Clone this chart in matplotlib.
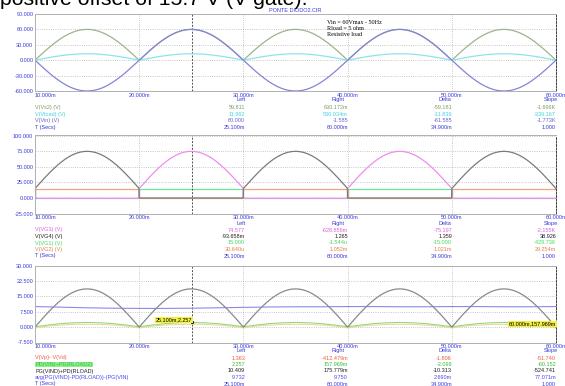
import numpy as np
import matplotlib.pyplot as plt

# ---- data ----
t_start, t_end = 10.0, 60.0          # ms
freq_hz = 50.0
vin_peak = 60.0
vload_peak = 12.5
gate_offset = 15.0
gate_peak = 59.6
power_peak = 18.6
cursor_t = 25.1

half_edges = [10, 20, 30, 40, 50, 60]
vg1_levels = [0.0, 15.0, 0.0, 15.0, 0.0]
vg2_levels = [15.0, 0.0, 15.0, 0.0, 15.0]

# panel 3 small curves, sampled every 1.25 ms from 10 to 60 ms
t_fine = [10 + 1.25 * i for i in range(41)]
pd_sum = [0.16, 1.0, 1.7, 2.1, 2.26, 2.1, 1.7, 1.0,
          0.16, 1.0, 1.7, 2.1, 2.26, 2.1, 1.7, 1.0,
          0.16, 1.0, 1.7, 2.1, 2.26, 2.1, 1.7, 1.0,
          0.16, 1.0, 1.7, 2.1, 2.26, 2.1, 1.7, 1.0,
          0.16, 1.0, 1.7, 2.1, 2.26, 2.1, 1.7, 1.0, 0.16]
vp_vd = [-0.41, 0.5, 1.0, 1.3, 1.36, 1.3, 1.0, 0.5,
         -0.41, 0.5, 1.0, 1.3, 1.36, 1.3, 1.0, 0.5,
         -0.41, 0.5, 1.0, 1.3, 1.36, 1.3, 1.0, 0.5,
         -0.41, 0.5, 1.0, 1.3, 1.36, 1.3, 1.0, 0.5,
         -0.41, 0.5, 1.0, 1.3, 1.36, 1.3, 1.0, 0.5, -0.41]
t_avg = [10 + 2.5 * i for i in range(21)]
avg_power = [10.0, 9.7, 9.4, 9.2, 9.1, 9.1, 9.2, 9.4, 9.6, 9.8, 9.9,
             9.9, 10.0, 10.0, 9.9, 9.9, 10.0, 10.0, 9.9, 9.9, 10.0]

# axis ticks
xticks = [10, 20, 30, 40, 50, 60]
xtick_labels = ['10.000m', '20.000m', '30.000m', '40.000m', '50.000m', '60.000m']
p1_yticks = [-60, -30, 0, 30, 60, 90]
p2_yticks = [-25, 0, 25, 50, 75, 100]
p3_yticks = [-7.5, 0, 7.5, 15, 22.5, 30]

# cursor readouts
col_heads = ['Left', 'Right', 'Delta', 'Slope']
p1_names = ['V(Vs2) (V)', 'V(Vload) (V)', 'V(Vin) (V)', 'T (Secs)']
p1_vals = [['59.811', '630.172m', '-59.181', '-1.696K'],
           ['11.962', '530.034m', '-11.839', '-339.167'],
           ['60.000', '-1.585', '-61.585', '-1.773K'],
           ['25.100m', '60.000m', '34.900m', '1.000']]
p2_names = ['V(VG3) (V)', 'V(VG4) (V)', 'V(VG1) (V)', 'V(VG2) (V)', 'T (Secs)']
p2_vals = [['74.577', '-628.859m', '-75.197', '-2.155K'],
           ['-93.658m', '1.265', '1.359', '38.926'],
           ['15.000', '-1.544u', '-15.000', '-429.736'],
           ['30.640u', '1.052m', '1.021m', '29.254m'],
           ['25.100m', '60.000m', '34.900m', '1.000']]
p3_names = ['V(Vp)- V(Vd)', 'PD(VIN)+PD(RLOAD2)', 'PG(VIND)+PD(RLOAD)',
            'avg(PG(VIND)-PD(RLOAD))-(PG(VIN)', 'T (Secs)']
p3_vals = [['1.363', '-412.479m', '-1.806', '-51.740'],
           ['2.257', '157.969m', '-2.099', '-60.152'],
           ['10.409', '175.779m', '-10.313', '-524.741'],
           ['9.732', '9.750', '2.690m', '77.071m'],
           ['25.100m', '60.000m', '34.900m', '1.000']]

# ---- figure ----
W, H = 565, 386
plt.rcParams['font.family'] = ['Liberation Sans', 'DejaVu Sans']
fig = plt.figure(figsize=(W / 100, H / 100), dpi=100)
fig.patch.set_facecolor('white')

def fx(x):
    return x / W

def fy(y):
    return 1 - y / H

tick_blue = '#3a3ad8'
fs = 4.0

def make_panel(top, bottom, ylim, yticks):
    ax = fig.add_axes([fx(35), fy(bottom), (556 - 35) / W, (bottom - top) / H])
    ax.set_xlim(t_start, t_end)
    ax.set_ylim(*ylim)
    ax.set_xticks(xticks)
    ax.set_xticklabels(xtick_labels)
    ax.set_yticks(yticks)
    ax.set_yticklabels(['%.3f' % v for v in yticks])
    ax.tick_params(length=0, labelsize=fs, labelcolor=tick_blue, pad=1.2)
    ax.get_xticklabels()[0].set_ha('left')
    ax.grid(True, color='#b4b4b4', ls=':', lw=0.6)
    for s in ['top', 'left', 'bottom']:
        ax.spines[s].set_color('#b0b0b0')
        ax.spines[s].set_linewidth(0.7)
    ax.spines['right'].set_color('#404040')
    ax.spines['right'].set_linestyle((0, (2, 1.5)))
    ax.spines['right'].set_linewidth(0.7)
    ax.axvline(cursor_t, color='#505050', ls=(0, (2, 1.5)), lw=0.7)
    return ax

def readout(y_head, y_rows, names, vals, colors, bg=None):
    heads_x = [241, 338, 445, 551]
    vals_x = [245, 348, 452, 556]
    for hx, h in zip(heads_x, col_heads):
        fig.text(fx(hx), fy(y_head), h, fontsize=fs, color=tick_blue,
                 ha='center', va='center')
    for i, (yy, n, row, c) in enumerate(zip(y_rows, names, vals, colors)):
        kw = {}
        if bg is not None and bg[0] == i:
            kw['bbox'] = dict(facecolor=bg[1], edgecolor='none', pad=0.3)
        fig.text(fx(35), fy(yy), n, fontsize=fs, color=c, ha='left', va='center', **kw)
        for vx, v in zip(vals_x, row):
            fig.text(fx(vx), fy(yy), v, fontsize=fs, color=c, ha='right', va='center')

t = np.linspace(t_start, t_end, 3001)
phase = 2 * np.pi * freq_hz / 1000.0 * (t - t_start)
half = np.clip(np.floor((t - t_start) / 10.0).astype(int), 0, 4)
rect = np.abs(np.sin(phase))

# panel 1
ax1 = make_panel(14, 91, (-60, 90), p1_yticks)
ax1.plot(t, vin_peak * rect, color='#9cb48c', lw=0.9)
ax1.plot(t, vload_peak * rect, color='#86e6ee', lw=0.9)
ax1.plot(t, -vin_peak * np.sin(phase), color='#8484d8', lw=0.9)
ax1.text(0.56, 0.92, 'Vin = 60Vmax - 50Hz\nRload = 5 ohm\nResistive load',
         transform=ax1.transAxes, family=['Liberation Serif'], fontsize=4.4,
         va='top', ha='left', linespacing=1.25)

fig.text(fx(295), fy(10.5), 'PONTE DIODO2.CIR', fontsize=4.0, color=tick_blue,
         ha='center', va='center')
fig.text(fx(0), fy(5), 'positive offset of 15.7 V (V gate).', fontsize=15.3,
         color='black', ha='left', va='baseline')

readout(99.5, [107.7, 114.2, 120.7, 127.2], p1_names, p1_vals,
        ['#7c9c64', '#40d4e4', '#6666cc', tick_blue])

# panel 2
odd = (half % 2 == 0)
vg4 = np.where(odd, gate_offset + gate_peak * rect, -0.09)
vg3 = np.where(~odd, gate_offset + gate_peak * rect, -0.6)
ax2 = make_panel(135.5, 213.5, (-25, 100), p2_yticks)
ax2.plot(t, vg3, color='#f08cf0', lw=0.9)
ax2.stairs(vg1_levels, half_edges, color='#6ee890', lw=0.9, baseline=None)
ax2.stairs(vg2_levels, half_edges, color='#f0a47c', lw=0.9, baseline=None)
ax2.plot(t, vg4, color='#7a7a7a', lw=0.9)
ax2.plot([t_start, t_start], [0, gate_offset], color='#303030', lw=0.9)

readout(223, [230, 236.5, 243, 249.5, 256], p2_names, p2_vals,
        ['#e060e0', '#202020', '#44d860', '#e88050', tick_blue])

# panel 3
ax3 = make_panel(265.5, 342.5, (-7.5, 30), p3_yticks)
ax3.plot(t_fine, vp_vd, color='#e8dc9c', lw=0.8)
ax3.plot(t_fine, pd_sum, color='#98d878', lw=0.8)
ax3.plot(t_avg, avg_power, color='#8a8ae8', lw=0.8)
ax3.plot(t, power_peak * rect, color='#8a8a8a', lw=0.9)
ax3.plot([cursor_t], [2.257], 's', color='#202020', ms=1.2)
ax3.text(cursor_t, 2.257, '25.100m,2.257', fontsize=fs, ha='right', va='bottom',
         bbox=dict(facecolor='#f4f040', edgecolor='none', pad=0.4))
ax3.text(t_end, 0.158, '60.000m,157.969m', fontsize=fs, ha='right', va='bottom',
         bbox=dict(facecolor='#f4f040', edgecolor='none', pad=0.4))

readout(350.5, [358, 364.5, 371, 377.5, 384], p3_names, p3_vals,
        ['#f05a3c', '#30c030', '#202020', '#4a4af0', tick_blue],
        bg=(1, '#90f090'))

fig.savefig('out.png', dpi=100, facecolor='white')
